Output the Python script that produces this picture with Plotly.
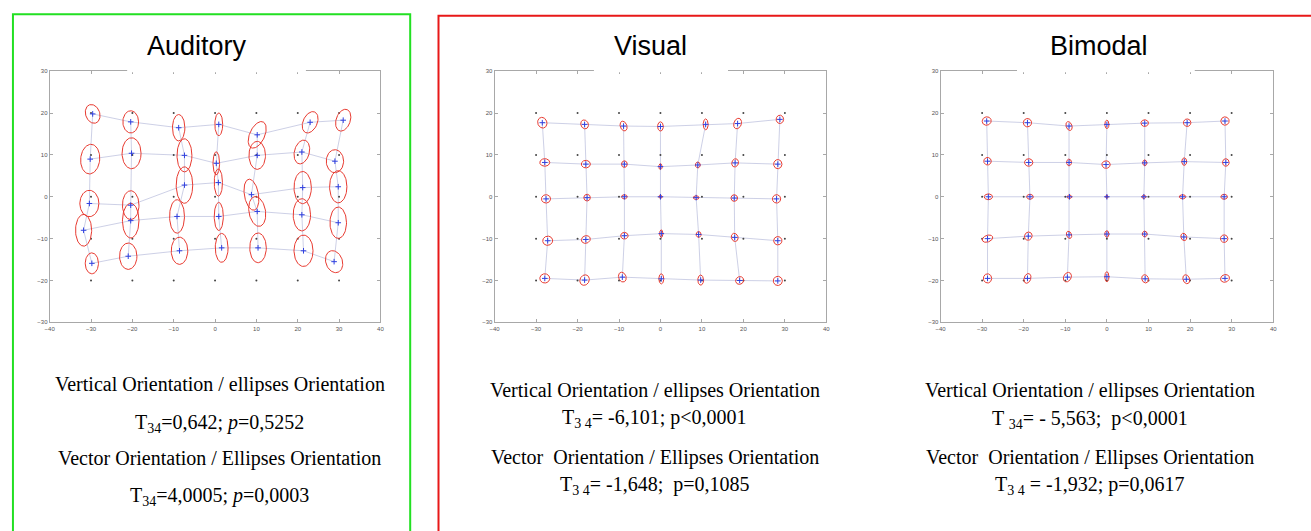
import numpy as np
import plotly.graph_objects as go

W, H = 1311, 531

# ---------------- data ----------------
TARGET_X = [-30, -20, -10, 0, 10, 20, 30]
TARGET_Y = [20, 10, 0, -10, -20]
X_TICKS = [-40, -30, -20, -10, 0, 10, 20, 30, 40]
Y_TICKS = [-30, -20, -10, 0, 10, 20, 30]

PANEL_TITLES = ["Auditory", "Visual", "Bimodal"]

# Auditory: mean localisation (rows = target y 20..-20, cols = target x -30..30)
AUD_X = [[-29.6, -20.4, -8.8, 0.9, 10.2, 23.0, 31.0],
         [-30.2, -20.2, -7.4, 0.3, 10.2, 21.0, 29.0],
         [-30.4, -20.4, -7.4, 0.8, 8.8, 21.2, 29.8],
         [-31.8, -20.4, -9.2, 0.9, 10.2, 21.0, 29.8],
         [-29.8, -21.0, -8.6, 1.6, 10.4, 21.4, 28.8]]
AUD_Y = [[19.8, 17.9, 16.5, 17.3, 14.8, 17.8, 18.3],
         [9.0, 10.4, 9.9, 8.0, 9.9, 10.7, 8.5],
         [-1.6, -2.0, 2.8, 3.4, 0.5, 2.2, 2.4],
         [-8.0, -5.7, -4.7, -4.7, -3.5, -4.3, -6.2],
         [-15.9, -14.2, -12.9, -12.2, -12.2, -12.9, -15.5]]
AUD_EW = [[3.4, 3.8, 3.0, 1.9, 3.6, 3.4, 3.4],
          [4.6, 4.6, 3.6, 1.6, 4.0, 3.6, 4.2],
          [4.6, 4.0, 4.0, 2.0, 3.4, 4.2, 4.2],
          [3.9, 4.0, 3.6, 2.2, 4.0, 4.2, 4.0],
          [3.2, 4.2, 4.0, 3.1, 4.0, 4.6, 4.0]]
AUD_EH = [[4.6, 5.3, 6.3, 5.4, 6.8, 5.4, 5.4],
          [7.1, 7.4, 7.9, 5.5, 6.7, 5.8, 5.5],
          [6.3, 6.9, 8.7, 6.5, 7.5, 7.7, 7.7],
          [7.6, 8.3, 8.0, 6.7, 7.2, 7.7, 7.5],
          [5.0, 6.3, 6.5, 6.9, 7.1, 7.5, 5.4]]
AUD_ANG = [[20, 0, 0, 0, -25, -25, -20],
           [-5, 0, 0, 0, 0, -15, 0],
           [0, 0, 0, 0, 10, 0, 0],
           [0, 0, 0, 0, 10, 0, 0],
           [0, 0, 0, 0, 0, 0, 20]]

# Visual
VIS_X = [[-28.5, -18.3, -8.9, 0.0, 10.9, 18.6, 28.8],
         [-27.9, -18.0, -8.7, 0.0, 9.0, 18.0, 28.3],
         [-27.6, -17.7, -8.7, 0.0, 8.6, 17.8, 28.0],
         [-27.2, -18.0, -8.7, 0.2, 9.2, 17.9, 28.3],
         [-27.9, -18.3, -9.2, 0.2, 9.7, 19.1, 28.3]]
VIS_Y = [[17.7, 17.3, 16.9, 16.8, 17.3, 17.5, 18.5],
         [8.2, 7.8, 7.8, 7.2, 7.6, 8.1, 7.8],
         [-0.5, -0.2, 0.0, 0.0, -0.2, -0.3, -0.5],
         [-10.5, -10.2, -9.3, -8.8, -9.0, -9.7, -10.5],
         [-19.5, -19.9, -19.2, -19.6, -19.9, -20.0, -20.1]]
VIS_EW = [[2.2, 1.8, 1.6, 1.4, 1.2, 1.8, 1.8],
          [2.4, 2.2, 1.4, 0.8, 1.2, 1.6, 2.0],
          [2.2, 1.6, 1.4, 0.8, 1.4, 1.6, 2.0],
          [2.4, 2.2, 1.8, 0.8, 1.2, 1.6, 2.0],
          [2.4, 2.2, 1.8, 1.2, 1.4, 2.0, 2.2]]
VIS_EH = [[2.6, 2.2, 2.4, 2.2, 2.6, 2.6, 2.0],
          [1.8, 1.8, 1.6, 1.4, 1.4, 2.0, 2.2],
          [2.0, 1.6, 1.0, 0.8, 0.9, 1.6, 2.0],
          [2.2, 1.8, 1.6, 1.8, 1.4, 2.0, 2.0],
          [2.2, 2.6, 2.4, 2.4, 2.4, 1.8, 2.2]]
VIS_ANG = [[20, 25, 20, 0, 0, -20, 0],
           [0, 0, 0, 0, 0, -20, 0],
           [0, 0, 0, 0, 0, 0, 0],
           [10, 20, 0, 0, 0, 20, 20],
           [0, -30, 20, 0, 0, 30, 0]]

# Bimodal
BIM_X = [[-28.9, -19.1, -9.1, 0.0, 9.1, 19.3, 28.4],
         [-28.7, -18.8, -9.1, -0.2, 9.1, 18.6, 28.6],
         [-28.5, -18.5, -9.0, 0.0, 8.9, 18.2, 28.2],
         [-28.7, -18.9, -9.1, 0.0, 9.1, 18.5, 28.2],
         [-28.7, -19.1, -9.5, 0.0, 9.2, 19.1, 28.4]]
BIM_Y = [[18.1, 17.7, 16.9, 17.3, 17.6, 17.7, 18.1],
         [8.5, 8.2, 8.2, 7.7, 8.1, 8.4, 8.2],
         [0.0, 0.0, 0.0, 0.0, 0.0, 0.0, 0.0],
         [-10.0, -9.4, -9.1, -8.9, -8.9, -9.6, -10.0],
         [-19.5, -19.5, -19.2, -19.1, -19.6, -19.7, -19.5]]
BIM_EW = [[2.2, 2.0, 1.4, 1.0, 1.8, 1.8, 2.0],
          [1.8, 2.0, 1.2, 2.0, 1.0, 1.2, 1.6],
          [2.0, 1.6, 1.2, 0.6, 1.0, 1.6, 1.6],
          [2.6, 1.8, 1.2, 1.0, 1.2, 1.4, 1.8],
          [2.0, 1.6, 1.8, 1.0, 1.6, 1.6, 2.2]]
BIM_EH = [[2.0, 2.0, 2.2, 2.0, 1.6, 1.8, 2.0],
          [1.8, 1.8, 1.6, 1.8, 1.4, 1.8, 1.8],
          [1.4, 1.2, 0.8, 0.8, 0.8, 1.0, 1.2],
          [1.6, 2.0, 1.8, 1.6, 1.4, 1.8, 1.8],
          [2.2, 2.4, 2.4, 2.4, 2.0, 2.2, 1.8]]
BIM_ANG = [[20, 20, 20, 0, 0, 0, -20],
           [0, 0, 0, 0, 0, 0, 0],
           [0, 0, 0, 0, 0, 0, 0],
           [20, -30, 20, 0, 0, 20, 0],
           [0, -20, -30, 0, 20, 20, 20]]

STATS_TEXT = [
    ["Vertical Orientation / ellipses Orientation",
     "T<sub>34</sub>=0,642; <i>p</i>=0,5252",
     "Vector Orientation / Ellipses Orientation",
     "T<sub>34</sub>=4,0005; <i>p</i>=0,0003"],
    ["Vertical Orientation / ellipses Orientation",
     "T<sub>3 4</sub>= -6,101; p&lt;0,0001",
     "Vector  Orientation / Ellipses Orientation",
     "T<sub>3 4</sub>= -1,648;  p=0,1085"],
    ["Vertical Orientation / ellipses Orientation",
     "T <sub>34</sub>= - 5,563;  p&lt;0,0001",
     "Vector  Orientation / Ellipses Orientation",
     "T<sub>3 4</sub> = -1,932; p=0,0617"],
]

PANELS = [
    (AUD_X, AUD_Y, AUD_EW, AUD_EH, AUD_ANG),
    (VIS_X, VIS_Y, VIS_EW, VIS_EH, VIS_ANG),
    (BIM_X, BIM_Y, BIM_EW, BIM_EH, BIM_ANG),
]

# ---------------- layout geometry (pixels) ----------------
AX_PX = [(45, 378), (493, 827), (942, 1277)]
AX_TOP, AX_BOT = 69, 323
TITLE_X = [193, 650, 1102]
TITLE_Y = 43
TEXT_X = [216, 654, 1092]
TEXT_Y = [[386, 425, 461, 499], [392, 420, 460, 488], [392, 421, 460, 488]]
TITLE_GAP = [(123, 303), (593, 728), (1019, 1198)]


def px(x):
    return x / W


def py(y):
    return 1 - y / H


fig = go.Figure()

t = np.linspace(0, 2 * np.pi, 72)
for i, (MX, MY, EW, EH, ANG) in enumerate(PANELS):
    xa = "x" if i == 0 else f"x{i+1}"
    ya = "y" if i == 0 else f"y{i+1}"
    mx = np.array(MX, dtype=float)
    my = np.array(MY, dtype=float)

    # connecting grid of mean positions
    gx, gy = [], []
    for r in range(mx.shape[0]):
        gx += list(mx[r]) + [None]
        gy += list(my[r]) + [None]
    for c in range(mx.shape[1]):
        gx += list(mx[:, c]) + [None]
        gy += list(my[:, c]) + [None]
    fig.add_trace(go.Scatter(x=gx, y=gy, mode="lines", xaxis=xa, yaxis=ya,
                             line=dict(color="rgba(175,180,215,0.7)", width=0.9),
                             hoverinfo="skip", showlegend=False))

    # target positions
    tx, ty = np.meshgrid(TARGET_X, TARGET_Y)
    fig.add_trace(go.Scatter(x=tx.ravel(), y=ty.ravel(), mode="markers",
                             xaxis=xa, yaxis=ya,
                             marker=dict(color="#444444", size=2),
                             hoverinfo="skip", showlegend=False))

    # ellipses
    ex, ey = [], []
    ew = np.array(EW, dtype=float)
    eh = np.array(EH, dtype=float)
    ang = np.deg2rad(np.array(ANG, dtype=float))
    for r in range(mx.shape[0]):
        for c in range(mx.shape[1]):
            a, b, th = ew[r, c] / 2, eh[r, c] / 2, ang[r, c]
            xs = mx[r, c] + a * np.cos(t) * np.cos(th) - b * np.sin(t) * np.sin(th)
            ys = my[r, c] + a * np.cos(t) * np.sin(th) + b * np.sin(t) * np.cos(th)
            ex += list(xs) + [None]
            ey += list(ys) + [None]
    fig.add_trace(go.Scatter(x=ex, y=ey, mode="lines", xaxis=xa, yaxis=ya,
                             line=dict(color="#e83a30", width=1.0),
                             hoverinfo="skip", showlegend=False))

    # mean markers
    fig.add_trace(go.Scatter(x=mx.ravel(), y=my.ravel(), mode="markers",
                             xaxis=xa, yaxis=ya,
                             marker=dict(symbol="cross-thin", size=4,
                                         line=dict(color="#3040e0", width=1)),
                             hoverinfo="skip", showlegend=False))

axis_common = dict(showgrid=False, zeroline=False, showline=True,
                   linecolor="#a8a8a8", linewidth=1, mirror="ticks",
                   ticks="inside", ticklen=3, tickcolor="#a8a8a8",
                   tickfont=dict(size=6, color="#555555", family="Liberation Sans"))
layout = dict(width=W, height=H, margin=dict(l=0, r=0, t=0, b=0),
              paper_bgcolor="white", plot_bgcolor="white", showlegend=False)
for i in range(3):
    xk = "xaxis" if i == 0 else f"xaxis{i+1}"
    yk = "yaxis" if i == 0 else f"yaxis{i+1}"
    ya = "y" if i == 0 else f"y{i+1}"
    xa = "x" if i == 0 else f"x{i+1}"
    x0, x1 = AX_PX[i]
    layout[xk] = dict(axis_common, domain=[px(x0), px(x1)], range=[-40, 40],
                      tickvals=X_TICKS, anchor=ya)
    layout[yk] = dict(axis_common, domain=[py(AX_BOT), py(AX_TOP)], range=[-30, 30],
                      tickvals=Y_TICKS, anchor=xa)
fig.update_layout(**layout)

shapes = []
# white boxes behind titles (covering part of top axis line)
for g0, g1 in TITLE_GAP:
    shapes.append(dict(type="rect", xref="paper", yref="paper",
                       x0=px(g0), x1=px(g1), y0=py(70), y1=py(50),
                       fillcolor="white", line=dict(width=0), layer="above"))
# frames
shapes.append(dict(type="rect", xref="paper", yref="paper",
                   x0=px(8), x1=px(408), y0=py(540), y1=py(11.5),
                   line=dict(color="#22e022", width=2), fillcolor="rgba(0,0,0,0)",
                   layer="above"))
shapes.append(dict(type="rect", xref="paper", yref="paper",
                   x0=px(436.5), x1=px(1320), y0=py(540), y1=py(13),
                   line=dict(color="#e81818", width=2), fillcolor="rgba(0,0,0,0)",
                   layer="above"))
fig.update_layout(shapes=shapes)

annotations = []
for i in range(3):
    annotations.append(dict(text=PANEL_TITLES[i], x=px(TITLE_X[i]), y=py(TITLE_Y),
                            xref="paper", yref="paper", showarrow=False,
                            xanchor="center", yanchor="middle",
                            font=dict(family="Liberation Sans", size=27, color="black")))
    for j, line in enumerate(STATS_TEXT[i]):
        annotations.append(dict(text=line, x=px(TEXT_X[i]), y=py(TEXT_Y[i][j]),
                                xref="paper", yref="paper", showarrow=False,
                                xanchor="center", yanchor="middle",
                                font=dict(family="Liberation Serif", size=20,
                                          color="black")))
fig.update_layout(annotations=annotations)

fig.write_html("out.html")
